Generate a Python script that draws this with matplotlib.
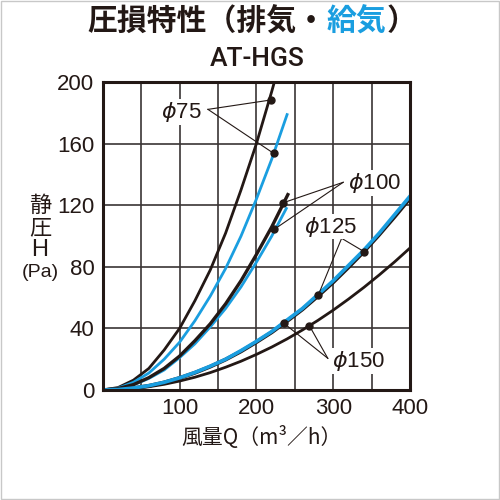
import matplotlib
matplotlib.use("Agg")
import matplotlib.pyplot as plt

BLACK = '#231815'
BLUE = '#1a9ee0'
CJK = ['Noto Sans CJK JP', 'Liberation Sans', 'DejaVu Sans']
LAT = ['Liberation Sans', 'DejaVu Sans']

# air volume Q (m3/h) sample points
q20 = [0, 20, 40, 60, 80, 100, 120, 140, 160, 180, 200, 220]
q400 = [0, 20, 40, 60, 80, 100, 120, 140, 160, 180, 200,
        220, 240, 260, 280, 300, 320, 340, 360, 380, 400]

# phi75
p75_ex_q = q20 + [225]
p75_ex = [0, 1.6, 6.4, 14, 26, 40, 58, 78, 102, 130, 160, 194, 203]
p75_su_q = q20 + [240]
p75_su = [0, 1.2, 5, 11, 20, 31, 45, 61, 79, 100, 124, 150, 179]
# phi100
p100_ex_q = q20 + [241]
p100_ex = [0, 0.9, 3.5, 8, 14, 22, 32, 43, 56, 71, 88, 106, 127]
p100_su_q = q20 + [239]
p100_su = [0, 0.8, 3.3, 7.5, 13, 21, 30, 41, 53, 67, 83, 100, 118]
# phi125 (exhaust and supply almost overlap) / phi150
p125_ex = [0, 0.3, 1.2, 2.7, 4.9, 7.8, 11.2, 15.2, 19.8, 25.1, 31.1,
           37.5, 44.8, 52.4, 61, 70, 79.8, 90, 101, 112.6, 124.6]
p125_su = [0, 0.3, 1.3, 2.8, 5, 7.9, 11.4, 15.5, 20, 25.6, 31.6,
           38, 45.5, 53, 62, 71, 81, 91, 102, 114, 126]
p150_ex = [0, 0.2, 0.9, 2.1, 3.7, 5.8, 8.3, 11.3, 14.8, 18.7, 23.1,
           27.9, 33.2, 39, 45.2, 51.9, 59.1, 66.7, 74.8, 83.3, 92.3]

# label positions / leader targets
labels = {
    'φ75':  ((102, 180.6), (137, 182.4), [(218.7, 188.5), (222.6, 153.8)]),
    'φ100': ((354, 134.5), (313, 135), [(234.9, 121.7), (223.2, 104.4)]),
    'φ125': ((296, 106.2), (311, 98.6), [(280.7, 61.8), (340, 90)]),
    'φ150': ((333, 18.8), (293, 20.6), [(236, 43.3), (269, 41.8)]),
}

xticks = [100, 200, 300, 400]
yticks = [0, 40, 80, 120, 160, 200]

fig = plt.figure(figsize=(5, 5), dpi=100)
fig.patches.append(plt.Rectangle((0.002, 0.002), 0.996, 0.996, transform=fig.transFigure,
                                 fill=False, edgecolor='#c8c8c8', linewidth=1))
ax = fig.add_axes([0.2054, 0.22, 0.6146, 0.6154])

for gx in range(50, 400, 50):
    ax.axvline(gx, color='#3a3535', linewidth=1.2, zorder=1)
for gy in range(40, 200, 40):
    ax.axhline(gy, color='#3a3535', linewidth=1.2, zorder=1)

lw = 2.0
ax.plot(p75_ex_q, p75_ex, color=BLACK, linewidth=lw, zorder=3)
ax.plot(p75_su_q, p75_su, color=BLUE, linewidth=lw, zorder=3)
ax.plot(p100_ex_q, p100_ex, color=BLACK, linewidth=lw + 0.4, zorder=3)
ax.plot(p100_su_q, p100_su, color=BLUE, linewidth=lw, zorder=2.9)
ax.plot(q400, p125_ex, color=BLACK, linewidth=2.8, zorder=3)
ax.plot(q400, p125_su, color=BLUE, linewidth=2.6, zorder=3.1)
ax.plot(q400, p150_ex, color=BLACK, linewidth=lw, zorder=3)

for name, (tpos, start, targets) in labels.items():
    for tx, ty in targets:
        ax.plot([start[0], tx], [start[1], ty], color=BLACK, linewidth=0.8, zorder=4)
        ax.plot(tx, ty, 'o', color=BLACK, markersize=5, zorder=5)
    ax.text(tpos[0], tpos[1], '$\\phi$' + name[1:], fontsize=16, family=LAT,
            ha='center', va='center', color=BLACK, zorder=6,
            bbox=dict(facecolor='white', edgecolor='none', pad=0.5))

ax.set_xlim(0, 400)
ax.set_ylim(0, 200)
ax.set_xticks(xticks)
ax.set_yticks(yticks)
ax.tick_params(length=0, labelsize=16, colors=BLACK, pad=6)
for lab in ax.get_xticklabels() + ax.get_yticklabels():
    lab.set_family(LAT)
for sp in ax.spines.values():
    sp.set_linewidth(2.2)
    sp.set_color(BLACK)
    sp.set_zorder(7)

# title in three colour pieces
fig.canvas.draw()
r = fig.canvas.get_renderer()
parts = [('圧損特性（排気・', BLACK), ('給気', BLUE), ('）', BLACK)]
tx = 0.175
for s, c in parts:
    t = fig.text(tx, 0.957, s, fontsize=21.5, family=CJK, weight='bold', color=c,
                 ha='left', va='center')
    bb = t.get_window_extent(r)
    tx = bb.x1 / fig.bbox.width

fig.text(0.515, 0.881, 'AT-HGS', fontsize=19, family=['Roboto', 'DejaVu Sans'],
         weight='medium', ha='center', va='center', color=BLACK)

fig.text(0.08, 0.59, '静', fontsize=16, family=CJK, ha='center', va='center', color=BLACK)
fig.text(0.08, 0.545, '圧', fontsize=16, family=CJK, ha='center', va='center', color=BLACK)
fig.text(0.08, 0.50, 'H', fontsize=17, family=LAT, ha='center', va='center', color=BLACK)
fig.text(0.08, 0.455, '(Pa)', fontsize=14, family=LAT, ha='center', va='center', color=BLACK)

fig.text(0.522, 0.124, '風量Q（m³／h）', fontsize=15, family=CJK, ha='center', va='center',
         color=BLACK)

fig.savefig('out.png', dpi=100)
